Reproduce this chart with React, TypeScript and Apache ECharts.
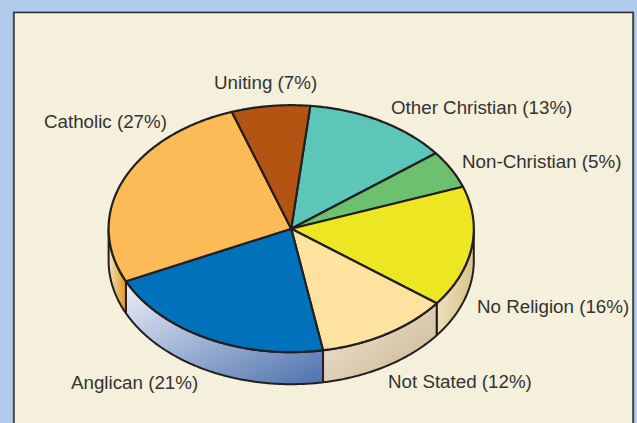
import React, { useEffect, useRef } from "react";
import * as echarts from "echarts";

const categories = ["Other Christian", "Non-Christian", "No Religion", "Not Stated", "Anglican", "Catholic", "Uniting"];
const shares = [13, 5, 16, 12, 21, 27, 7];
const topColors = ["#5cc6b8", "#6cc06e", "#ede723", "#fee2a0", "#0072bc", "#fdbb57", "#b35412"];
const wallFrom = ["#e8ddc4", "#e8ddc4", "#f4ecd2", "#efe8dc", "#eceffa", "#f5e6c4", "#b35412"];
const wallTo = ["#c8ae80", "#c8ae80", "#d8c488", "#cdb48c", "#4d72ad", "#e29a2e", "#b35412"];
const wallSlant = [1, 1, 0.4, 1, 1, 0.15, 1];
const labelAnchors: [number, number, string][] = [
  [391, 107, "left"], [462, 161, "left"], [477, 306, "left"], [388, 381, "left"],
  [71, 382, "left"], [44, 121, "left"], [214, 82, "left"],
];

const CX = 291.2, CY = 228.7, RX = 182.6, RY = 123.5, DEPTH = 32, START = 6;
const INK = "#231f20";

const pt = (deg: number, dy = 0): number[] => {
  const r = (deg * Math.PI) / 180;
  return [CX + RX * Math.sin(r), CY - RY * Math.cos(r) + dy];
};
const arc = (a: number, b: number, dy = 0): number[][] => {
  const n = Math.max(2, Math.ceil(Math.abs(b - a) * 2));
  return Array.from({ length: n + 1 }, (_, i) => pt(a + ((b - a) * i) / n, dy));
};
const total = shares.reduce((s, v) => s + v, 0);
const spanOf = (i: number) => {
  const a = START + (shares.slice(0, i).reduce((s, v) => s + v, 0) / total) * 360;
  return [a, a + (shares[i] / total) * 360];
};

export default function App() {
  const ref = useRef<HTMLDivElement>(null);
  useEffect(() => {
    document.body.style.margin = "0";
    const chart = echarts.init(ref.current!, undefined, { renderer: "svg" });
    chart.setOption({
      animation: false,
      backgroundColor: "#b2cdeb",
      graphic: [
        { type: "rect", z: -2, silent: true, shape: { x: 12.5, y: 11.5, width: 622, height: 440 }, style: { fill: "#8c9ab0" } },
        { type: "rect", z: -1, silent: true, shape: { x: 14, y: 12.5, width: 619, height: 440 }, style: { fill: "#f4f0dc", stroke: "#2d3033", lineWidth: 1.5 } },
      ],
      series: [{
        type: "custom",
        coordinateSystem: "none",
        data: categories.map((name, i) => ({ name, value: shares[i] })),
        renderItem: (params: any) => {
          const i = params.dataIndex;
          const [a, b] = spanOf(i);
          const children: any[] = [];
          const lo = Math.max(a, 90), hi = Math.min(b, 270);
          if (hi > lo) {
            children.push({
              type: "polygon",
              z2: 1,
              shape: { points: [...arc(lo, hi), ...arc(hi, lo, DEPTH)] },
              style: {
                fill: new echarts.graphic.LinearGradient(0, 0, 1, wallSlant[i], [
                  { offset: 0, color: wallFrom[i] },
                  { offset: 1, color: wallTo[i] },
                ]),
                stroke: INK, lineWidth: 2, lineJoin: "round",
              },
            });
          }
          children.push({
            type: "polygon",
            z2: 2,
            shape: { points: [[CX, CY], ...arc(a, b)] },
            style: { fill: topColors[i], stroke: INK, lineWidth: 2.2, lineJoin: "round" },
          });
          const [lx, ly, align] = labelAnchors[i];
          children.push({
            type: "text",
            z2: 3,
            x: lx,
            y: ly,
            style: {
              text: `${categories[i]} (${shares[i]}%)`,
              fill: "#333333",
              font: '18.75px "Liberation Sans", Arial, sans-serif',
              align,
              verticalAlign: "middle",
            },
          });
          return { type: "group", children };
        },
      }],
    });
    return () => chart.dispose();
  }, []);
  return <div ref={ref} style={{ width: 637, height: 423 }} />;
}
